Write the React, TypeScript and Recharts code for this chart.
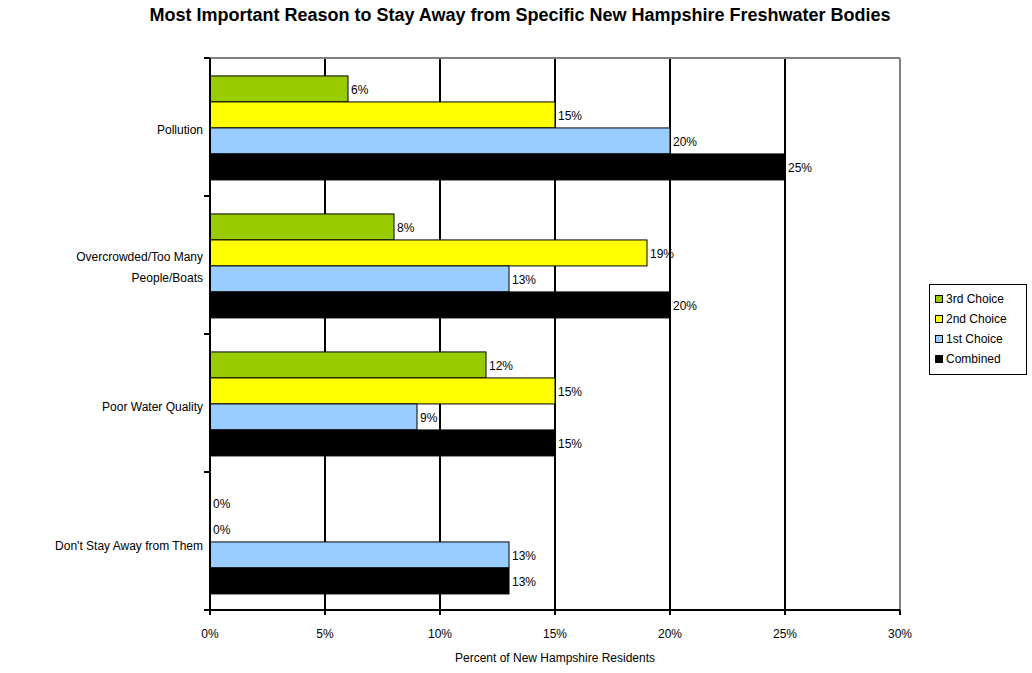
import React from 'react';
import { BarChart, Bar, XAxis, YAxis, CartesianGrid, ReferenceLine } from 'recharts';

const categories = ['Pollution', 'Overcrowded/Too Many People/Boats', 'Poor Water Quality', "Don't Stay Away from Them"];
const thirdChoice = [6, 8, 12, 0];
const secondChoice = [15, 19, 15, 0];
const firstChoice = [20, 13, 9, 13];
const combined = [25, 20, 15, 13];
const xTicks = [0, 5, 10, 15, 20, 25, 30];

const series = [
  { key: 'third', name: '3rd Choice', color: '#99CC00' },
  { key: 'second', name: '2nd Choice', color: '#FFFF00' },
  { key: 'first', name: '1st Choice', color: '#99CCFF' },
  { key: 'combined', name: 'Combined', color: '#000000' },
];

const data = categories.map((c, i) => ({
  name: c,
  third: thirdChoice[i],
  second: secondChoice[i],
  first: firstChoice[i],
  combined: combined[i],
}));

const FONT = 'Arial, "Liberation Sans", sans-serif';
const W = 1032;
const H = 673;
const TOP = 58;
const BOTTOM = 610;
const BAND = (BOTTOM - TOP) / categories.length;
const LABEL_NUDGE = [3, 2, 4, 5];

const YTick = (props: any) => {
  const { x, y, payload, index } = props;
  const label: string = payload.value;
  let lines = [label];
  if (label.startsWith('Overcrowded')) lines = ['Overcrowded/Too Many', 'People/Boats'];
  const lh = 21;
  const startY = y - ((lines.length - 1) * lh) / 2 + (LABEL_NUDGE[index] || 0);
  return (
    <g>
      {index === 0 && <line x1={x + 2} x2={x + 8} y1={y - BAND / 2} y2={y - BAND / 2} stroke="#000" strokeWidth={2} />}
      <line x1={x + 2} x2={x + 8} y1={y + BAND / 2} y2={y + BAND / 2} stroke="#000" strokeWidth={2} />
      <text x={x + 1} y={startY} textAnchor="end" dominantBaseline="central" fontSize={12} fontFamily={FONT} fill="#000">
        {lines.map((l, i) => (
          <tspan key={i} x={x + 1} dy={i === 0 ? 0 : lh}>{l}</tspan>
        ))}
      </text>
    </g>
  );
};

const makeShape = (key: string, color: string) => (props: any) => {
  const { x, y, width, height, payload } = props;
  const v = payload[key];
  return (
    <g>
      {width > 0 && <rect x={x} y={y} width={width} height={height} fill={color} stroke="#000" strokeWidth={1} />}
      <text x={x + width + 3} y={y + height / 2 + 1} dominantBaseline="central" fontSize={12} fontFamily={FONT} fill="#000">
        {`${v}%`}
      </text>
    </g>
  );
};

const XTick = (props: any) => {
  const { x, y, payload } = props;
  return (
    <text x={x} y={y + 17} textAnchor="middle" dominantBaseline="central" fontSize={12} fontFamily={FONT} fill="#000">
      {`${payload.value}%`}
    </text>
  );
};

const Legend = () => (
  <div
    style={{
      position: 'absolute',
      left: 929,
      top: 284,
      width: 98,
      height: 91,
      border: '1px solid #000',
      background: '#fff',
      fontFamily: FONT,
      fontSize: 12,
      boxSizing: 'border-box',
      padding: '4px 0 0 5px',
    }}
  >
    {series.map((s) => (
      <div key={s.key} style={{ display: 'flex', alignItems: 'center', height: 20 }}>
        <div style={{ width: 6, height: 6, background: s.color, border: '1px solid #000', marginRight: 3 }} />
        <span>{s.name}</span>
      </div>
    ))}
  </div>
);

export default function App() {
  return (
    <div style={{ position: 'absolute', left: 0, top: 0, width: W, height: H, background: '#fff' }}>
      <div
        style={{
          position: 'absolute',
          left: 0,
          width: W,
          top: 4,
          textAlign: 'center',
          fontFamily: FONT,
          fontWeight: 'bold',
          fontSize: 18,
          lineHeight: '22px',
          paddingLeft: 8,
          boxSizing: 'border-box',
        }}
      >
        Most Important Reason to Stay Away from Specific New Hampshire Freshwater Bodies
      </div>
      <BarChart
        width={W}
        height={H}
        data={data}
        layout="vertical"
        margin={{ top: TOP, right: W - 900, bottom: H - BOTTOM - 60, left: 10 }}
        barCategoryGap="13%"
        barGap={0}
      >
        <CartesianGrid horizontal={false} vertical={true} stroke="#000" strokeWidth={2} />
        <CartesianGrid
          horizontal={true}
          vertical={false}
          stroke="#808080"
          strokeWidth={2}
          horizontalCoordinatesGenerator={({ offset }: any) => [offset.top]}
        />
        <ReferenceLine x={30} stroke="#808080" strokeWidth={2} />
        <XAxis
          type="number"
          domain={[0, 30]}
          ticks={xTicks}
          axisLine={{ stroke: '#000', strokeWidth: 2 }}
          tickLine={{ stroke: '#000', strokeWidth: 2 }}
          tickSize={5}
          tick={<XTick />}
          height={60}
          label={{ value: 'Percent of New Hampshire Residents', position: 'insideBottom', offset: 8, fill: '#000', fontSize: 12, fontFamily: FONT }}
        />
        <YAxis
          type="category"
          dataKey="name"
          width={200}
          axisLine={{ stroke: '#000', strokeWidth: 2 }}
          tickLine={false}
          tick={<YTick />}
          interval={0}
        />
        {series.map((s) => (
          <Bar
            key={s.key}
            dataKey={s.key}
            name={s.name}
            fill={s.color}
            stroke="#000"
            strokeWidth={1}
            isAnimationActive={false}
            shape={makeShape(s.key, s.color)}
          />
        ))}
      </BarChart>
      <Legend />
    </div>
  );
}
